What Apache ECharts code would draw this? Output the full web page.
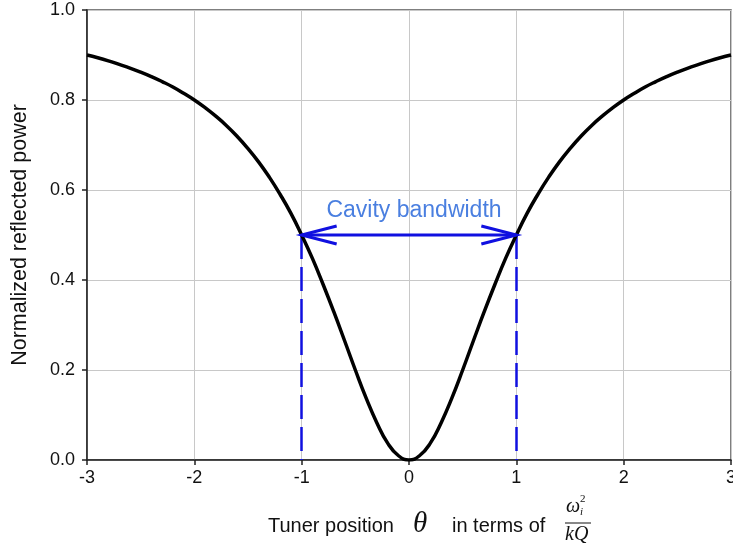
<!DOCTYPE html>
<html>
<head>
<meta charset="utf-8">
<script src="https://cdn.jsdelivr.net/npm/echarts@6/dist/echarts.min.js"></script>
<style>
  html, body { margin: 0; padding: 0; background: #ffffff; }
  #chart { width: 733px; height: 550px; }
</style>
</head>
<body>
<div id="chart"></div>
<script>
// Tuner position (theta) and normalized reflected power
const theta = [
  -3.0, -2.9, -2.8, -2.7, -2.6, -2.5, -2.4, -2.3, -2.2, -2.1,
  -2.0, -1.9, -1.8, -1.7, -1.6, -1.5, -1.4, -1.3, -1.2, -1.1,
  -1.0, -0.9, -0.8, -0.7, -0.6, -0.5, -0.4, -0.3, -0.2, -0.1,
  0.0,
  0.1, 0.2, 0.3, 0.4, 0.5, 0.6, 0.7, 0.8, 0.9, 1.0,
  1.1, 1.2, 1.3, 1.4, 1.5, 1.6, 1.7, 1.8, 1.9, 2.0,
  2.1, 2.2, 2.3, 2.4, 2.5, 2.6, 2.7, 2.8, 2.9, 3.0
];
const reflectedPower = [
  0.900, 0.894, 0.887, 0.879, 0.871, 0.862, 0.852, 0.841, 0.829, 0.815,
  0.800, 0.783, 0.764, 0.743, 0.719, 0.692, 0.662, 0.628, 0.590, 0.548,
  0.500, 0.448, 0.390, 0.329, 0.265, 0.200, 0.138, 0.083, 0.038, 0.010,
  0.000,
  0.010, 0.038, 0.083, 0.138, 0.200, 0.265, 0.329, 0.390, 0.448, 0.500,
  0.548, 0.590, 0.628, 0.662, 0.692, 0.719, 0.743, 0.764, 0.783, 0.800,
  0.815, 0.829, 0.841, 0.852, 0.862, 0.871, 0.879, 0.887, 0.894, 0.900
];

// Half-power bandwidth edges
const bandEdges = [-1, 1];
const halfPower = 0.5;
const bandLabel = 'Cavity bandwidth';

const xTicks = { min: -3, max: 3, step: 1 };
const yTicks = { min: 0, max: 1, step: 0.2 };

const curve = theta.map((t, i) => [t, reflectedPower[i]]);

const FONT = '"Liberation Sans", Arial, sans-serif';
const MATH = '"Liberation Serif", "DejaVu Serif", serif';
const BLUE = '#1010e0';

const chart = echarts.init(document.getElementById('chart'), null, { renderer: 'canvas' });

// Double-headed arrow with open chevron heads and a caption above it
function renderArrow(params, api) {
  const a = api.coord([api.value(0), api.value(1)]);
  const b = api.coord([api.value(2), api.value(3)]);
  const headLen = 35, headHalf = 9;
  const stroke = { stroke: BLUE, lineWidth: 3, fill: null };
  return {
    type: 'group',
    children: [
      { type: 'line', shape: { x1: a[0], y1: a[1], x2: b[0], y2: b[1] }, style: stroke },
      {
        type: 'polyline',
        shape: { points: [[a[0] + headLen, a[1] - headHalf], [a[0], a[1]], [a[0] + headLen, a[1] + headHalf]] },
        style: stroke
      },
      {
        type: 'polyline',
        shape: { points: [[b[0] - headLen, b[1] - headHalf], [b[0], b[1]], [b[0] - headLen, b[1] + headHalf]] },
        style: stroke
      },
      {
        type: 'text',
        x: (a[0] + b[0]) / 2 + 5,
        y: a[1] - 24,
        style: {
          text: bandLabel,
          fill: '#4a7fe0',
          font: '23px ' + FONT,
          align: 'center',
          verticalAlign: 'middle'
        }
      }
    ]
  };
}

const option = {
  animation: false,
  backgroundColor: '#ffffff',
  grid: {
    left: 87, right: 2, top: 10, bottom: 90,
    outerBoundsMode: 'none',
    show: true, borderColor: '#555555', borderWidth: 1.5
  },
  xAxis: {
    type: 'value',
    min: xTicks.min, max: xTicks.max, interval: xTicks.step,
    axisLine: { onZero: false, lineStyle: { color: '#222', width: 1.5 } },
    axisTick: { show: true, inside: false, length: 5, lineStyle: { color: '#222', width: 1.5 } },
    axisLabel: { color: '#111', fontSize: 18, fontFamily: FONT, margin: 9 },
    splitLine: { show: true, lineStyle: { color: '#c8c8c8', width: 1 } }
  },
  yAxis: {
    type: 'value',
    min: yTicks.min, max: yTicks.max, interval: yTicks.step,
    name: 'Normalized reflected power',
    nameLocation: 'middle',
    nameGap: 56,
    nameTextStyle: { color: '#111', fontSize: 21.5, fontFamily: FONT },
    axisLine: { show: true, onZero: false, lineStyle: { color: '#222', width: 1.5 } },
    axisTick: { show: true, inside: false, length: 5, lineStyle: { color: '#222', width: 1.5 } },
    axisLabel: { color: '#111', fontSize: 18, fontFamily: FONT, margin: 12, formatter: v => v.toFixed(1) },
    splitLine: { show: true, lineStyle: { color: '#c8c8c8', width: 1 } }
  },
  graphic: [
    {
      type: 'text', left: 268, top: 516,
      style: { text: 'Tuner position', fill: '#111', font: '20px ' + FONT }
    },
    {
      type: 'text', left: 413, top: 510,
      style: { text: 'θ', fill: '#111', font: 'italic 29px ' + MATH }
    },
    {
      type: 'text', left: 452, top: 516,
      style: { text: 'in terms of', fill: '#111', font: '20px ' + FONT }
    },
    {
      type: 'text', left: 566, top: 497,
      style: { text: 'ω', fill: '#111', font: 'italic 20px ' + MATH }
    },
    {
      type: 'text', left: 580, top: 494,
      style: { text: '2', fill: '#111', font: '11px ' + MATH }
    },
    {
      type: 'text', left: 580, top: 507,
      style: { text: 'i', fill: '#111', font: 'italic 11px ' + MATH }
    },
    {
      type: 'line', shape: { x1: 565, y1: 523, x2: 591, y2: 523 },
      style: { stroke: '#111', lineWidth: 1 }
    },
    {
      type: 'text', left: 565, top: 525,
      style: { text: 'kQ', fill: '#111', font: 'italic 20px ' + MATH }
    }
  ],
  series: [
    {
      name: 'Reflected power',
      type: 'line',
      data: curve,
      showSymbol: false,
      smooth: true,
      lineStyle: { color: '#000', width: 3.5 },
      z: 5
    },
    {
      name: 'Bandwidth markers',
      type: 'line',
      data: [],
      markLine: {
        silent: true,
        animation: false,
        symbol: 'none',
        label: { show: false },
        lineStyle: { color: BLUE, width: 2.5, type: [24, 8] },
        data: [
          [{ coord: [bandEdges[0], halfPower] }, { coord: [bandEdges[0], 0] }],
          [{ coord: [bandEdges[1], halfPower] }, { coord: [bandEdges[1], 0] }]
        ]
      },
      z: 4
    },
    {
      name: 'Bandwidth arrow',
      type: 'custom',
      renderItem: renderArrow,
      encode: { x: [0, 2], y: [1, 3] },
      data: [[bandEdges[0], halfPower, bandEdges[1], halfPower]],
      silent: true,
      z: 6
    }
  ]
};

chart.setOption(option);
</script>
</body>
</html>
